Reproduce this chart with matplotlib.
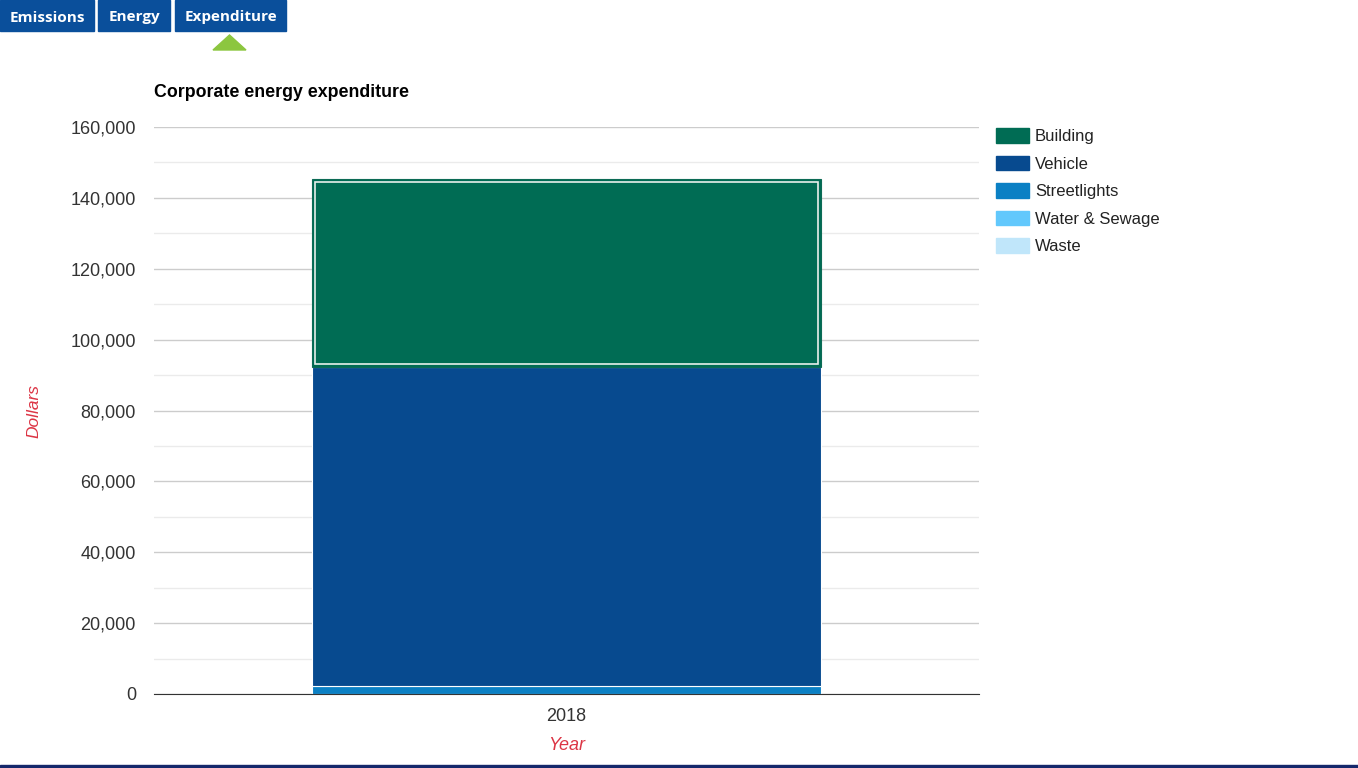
import matplotlib
matplotlib.use("Agg")
import matplotlib.pyplot as plt
from matplotlib.patches import Rectangle, Polygon
from matplotlib.ticker import FuncFormatter, MultipleLocator

categories = ["2018"]
series = ["Building", "Vehicle", "Streetlights", "Water & Sewage", "Waste"]
building = [53000]
vehicle = [90200]
streetlights = [2200]
water_sewage = [0]
waste = [0]
values = [building, vehicle, streetlights, water_sewage, waste]
colors = ["#006c54", "#074a8f", "#0b80c4", "#62c8fc", "#c0e6fa"]
tabs = ["Emissions", "Energy", "Expenditure"]

plt.rcParams['font.family'] = ['Liberation Sans', 'DejaVu Sans']

fig = plt.figure(figsize=(13.58, 7.68), dpi=100)
ax = fig.add_axes([154/1358, 1-694/768, 825/1358, 567/768])

x = list(range(len(categories)))
# stack from bottom: Waste, Water & Sewage, Streetlights, Vehicle, Building
order = [4, 3, 2, 1, 0]
bottoms = [0.0]*len(categories)
bars = {}
for i in order:
    vals = values[i]
    b = ax.bar(x, vals, width=0.617, bottom=bottoms, color=colors[i],
               edgecolor="white" if i != 0 else "#0c6b55", linewidth=0.8, zorder=3)
    bars[i] = b
    bottoms = [bb + v for bb, v in zip(bottoms, vals)]

ax.set_xlim(-0.5, 0.5)
ax.set_ylim(0, 160000)
ax.yaxis.set_major_locator(MultipleLocator(20000))
ax.yaxis.set_minor_locator(MultipleLocator(10000))
ax.yaxis.set_major_formatter(FuncFormatter(lambda v, p: f"{int(v):,}"))
ax.set_xticks(x)
ax.set_xticklabels(categories)
ax.grid(axis='y', which='major', color='#cccccc', linewidth=1, zorder=0)
ax.grid(axis='y', which='minor', color='#ebebeb', linewidth=1, zorder=0)
for s in ['top', 'right', 'left']:
    ax.spines[s].set_visible(False)
ax.spines['bottom'].set_color('#333333')
ax.spines['bottom'].set_zorder(4)
ax.tick_params(axis='both', which='both', length=0, labelsize=13, colors='#333333')
ax.tick_params(axis='y', pad=13)
ax.tick_params(axis='x', pad=10)
ax.set_ylabel("Dollars", fontsize=12.5, style='italic', color='#dc3545', labelpad=21)
ax.set_xlabel("Year", fontsize=13, style='italic', color='#dc3545', labelpad=9)
ax.text(0, 1.06, "Corporate energy expenditure", transform=ax.transAxes,
        fontsize=12.8, fontweight='bold', color='black', va='center', ha='left')

# selection highlight on Building bar (white inner frame)
fig.canvas.draw()
for p in bars[0].patches:
    bb = p.get_window_extent()
    inset = 3
    r = Rectangle((bb.x0 + inset, bb.y0 + inset), bb.width - 2*inset, bb.height - 2*inset,
                  fill=False, edgecolor='#e8f0ec', linewidth=1.2, transform=None, zorder=5)
    fig.add_artist(r)

# legend
handles = [Rectangle((0, 0), 1, 1, color=c) for c in colors]
leg = fig.legend(handles, series, loc='upper left', bbox_to_anchor=(981/1358, 1-113/768),
                 frameon=False, fontsize=12, handlelength=1.95, handleheight=1.0,
                 labelspacing=0.68, handletextpad=0.38, labelcolor='#222222')

# tabs
tab_x = [(0, 94), (98, 170), (175, 286)]
for (x0, x1), t in zip(tab_x, tabs):
    fig.add_artist(Rectangle((x0/1358, 1-31/768), (x1-x0)/1358, 31/768,
                             transform=fig.transFigure, color='#0a4f9b', zorder=1))
    fig.text((x0+x1)/2/1358, 1-17.5/768, t, ha='center', va='center', fontsize=11,
             fontweight='bold', color='white', family=['Open Sans', 'DejaVu Sans'])
fig.add_artist(Polygon([(213/1358, 1-50/768), (246/1358, 1-50/768), (229.5/1358, 1-35/768)],
                       closed=True, transform=fig.transFigure, color='#8cc63f'))
fig.add_artist(Rectangle((0, 0), 1, 3/768, transform=fig.transFigure, color='#15286b'))

fig.savefig("out.png", dpi=100)
